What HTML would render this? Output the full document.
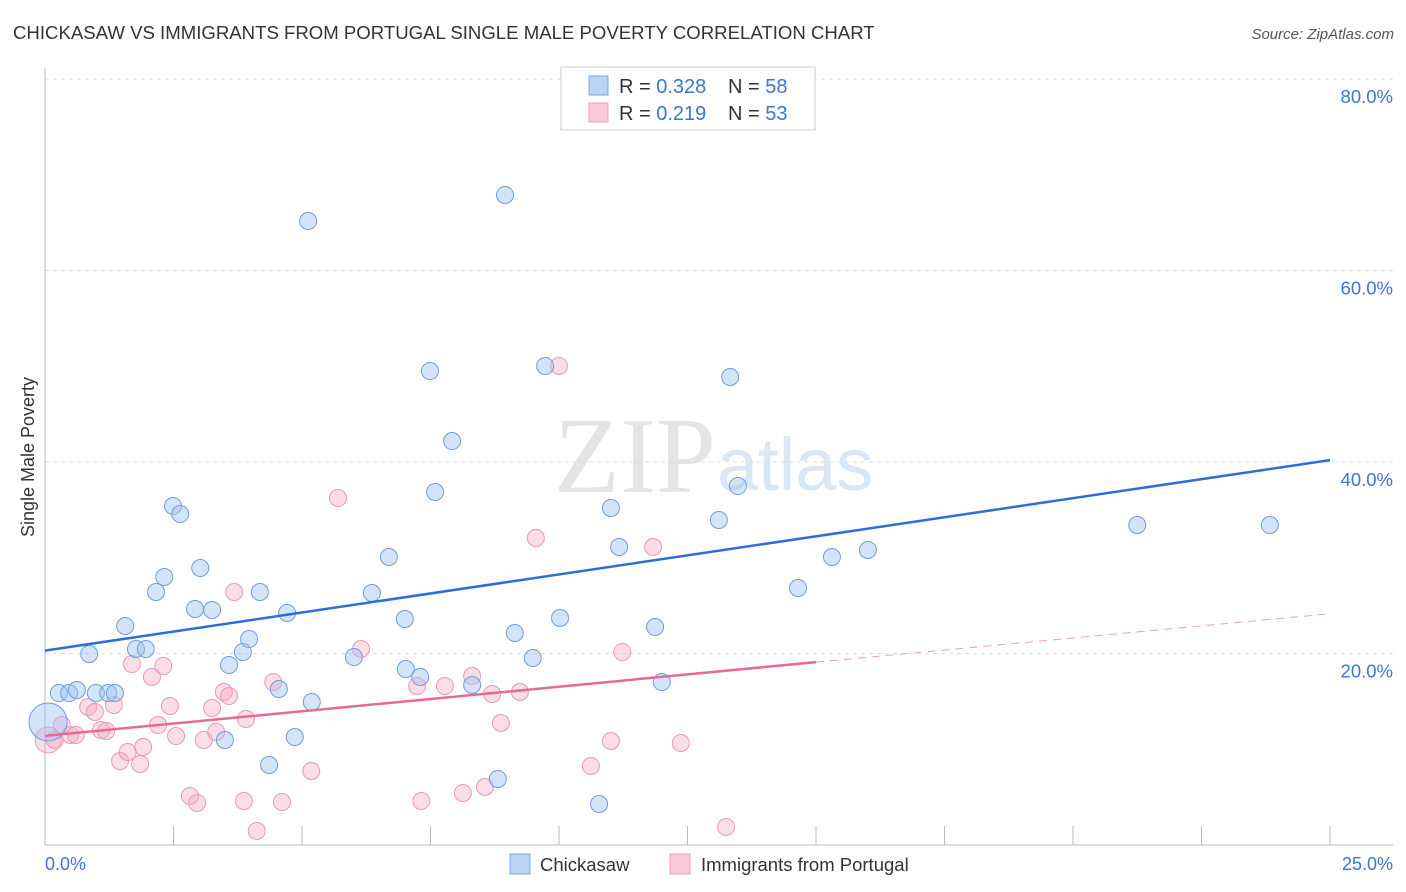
<!DOCTYPE html>
<html><head><meta charset="utf-8"><style>
body{margin:0;background:#fff;font-family:"Liberation Sans",sans-serif;}
svg{display:block}
</style></head><body>
<svg id="chart" width="1406" height="892">
<text x="13" y="39" font-size="18.6" fill="#333">CHICKASAW VS IMMIGRANTS FROM PORTUGAL SINGLE MALE POVERTY CORRELATION CHART</text>
<text x="1394" y="39" font-size="15" fill="#555" font-style="italic" text-anchor="end">Source: ZipAtlas.com</text>
<text x="716" y="492" font-size="108" fill="#e4e4e4" text-anchor="end" font-family="Liberation Serif,serif">ZIP</text>
<text x="717" y="490" font-size="74" fill="#d8e6f5">atlas</text>
<text transform="translate(34,457) rotate(-90)" font-size="18" fill="#333" text-anchor="middle">Single Male Poverty</text>
<g id="grid"></g><g id="pts"></g><g id="trend"></g>
<g>
<rect x="561" y="67" width="254" height="63" fill="#fff" stroke="#ccc"/>
<rect x="589" y="76" width="19" height="19" fill="#bcd4f4" stroke="#7aa6e0"/>
<rect x="589" y="103" width="19" height="19" fill="#fac8d6" stroke="#eba1b8"/>
<text x="619" y="93" font-size="20" fill="#333">R = <tspan fill="#3a76d6">0.328</tspan><tspan x="728">N = </tspan><tspan fill="#3a76d6">58</tspan></text>
<text x="619" y="120" font-size="20" fill="#333">R = <tspan fill="#3a76d6"> 0.219</tspan><tspan x="728">N = </tspan><tspan fill="#3a76d6">53</tspan></text>
</g>
<text x="45" y="870" font-size="18" fill="#3a76d6">0.0%</text>
<text x="1393" y="870" font-size="18" fill="#3a76d6" text-anchor="end">25.0%</text>
<rect x="510" y="854" width="20" height="20" fill="#bcd4f4" stroke="#7aa6e0"/>
<text x="540" y="871" font-size="18.5" fill="#333">Chickasaw</text>
<rect x="670" y="854" width="20" height="20" fill="#fac8d6" stroke="#eba1b8"/>
<text x="701" y="871" font-size="18.5" fill="#333">Immigrants from Portugal</text>
</svg>
<script>
const yTicks=[20,40,60,80];
const blueX=[0.06,0.27,0.47,0.62,0.86,0.99,1.23,1.36,1.56,1.77,1.96,2.16,2.32,2.49,2.63,2.92,3.02,3.25,3.50,3.58,3.85,3.97,4.18,4.36,4.55,4.71,4.86,5.12,5.19,6.01,6.36,6.69,7.00,7.02,7.30,7.49,7.59,7.92,8.31,8.81,8.95,9.14,9.49,9.73,10.02,10.78,11.01,11.17,11.87,12.00,13.11,13.33,13.48,14.65,15.31,16.01,21.25,23.83];
const blueY=[12.85,15.87,15.87,16.19,19.95,15.87,15.87,15.87,22.87,20.47,20.47,26.42,27.99,35.40,34.57,24.65,28.93,24.54,10.97,18.80,20.16,21.51,26.42,8.36,16.29,24.23,11.28,65.17,14.93,19.63,26.32,30.08,23.60,18.38,17.55,49.50,36.87,42.19,16.71,6.89,67.89,22.14,19.53,50.03,23.71,4.28,35.20,31.12,22.77,17.02,33.94,48.88,37.49,26.84,30.08,30.81,33.42,33.42];
const pinkX=[0.06,0.19,0.33,0.49,0.60,0.84,0.97,1.09,1.19,1.34,1.46,1.61,1.69,1.85,1.91,2.08,2.20,2.30,2.43,2.55,2.82,2.96,3.09,3.25,3.33,3.48,3.58,3.68,3.87,3.91,4.12,4.44,4.61,5.18,5.70,6.15,7.24,7.32,7.78,8.13,8.31,8.56,8.70,8.87,9.24,9.55,10.00,10.62,11.01,11.23,11.83,12.37,13.25];
const pinkY=[10.97,10.97,12.53,11.49,11.49,14.41,13.89,12.01,11.91,14.62,8.77,9.71,18.90,8.46,10.23,17.55,12.53,18.69,14.52,11.38,5.12,4.39,10.97,14.31,11.80,15.98,15.56,26.42,4.60,13.16,1.46,17.02,4.49,7.73,36.24,20.47,16.61,4.60,16.61,5.43,17.65,6.06,15.77,12.74,15.98,32.06,50.03,8.25,10.86,20.16,31.12,10.65,1.88];
const blueTrend=[[0,20.3],[25,40.2]];
const pinkTrend=[[0,11.4],[15,19.1]];
const pinkDash=[[15,19.1],[24.9,24.1]];
const X=v=>45+v*51.4, Y=v=>845-v*9.575;
const NS="http://www.w3.org/2000/svg";
function mk(t,a,p){const e=document.createElementNS(NS,t);for(const k in a)e.setAttribute(k,a[k]);p.appendChild(e);return e;}
const g=document.getElementById('grid');
yTicks.forEach(t=>{
 const l=mk('line',{x1:45,x2:1393,y1:Y(t),y2:Y(t),stroke:'#ddd','stroke-dasharray':'4,4'},g);
 
 
 const tx=mk('text',{x:1393,y:Y(t)+24,'font-size':18.5,fill:'#3a76d6','text-anchor':'end'},g);
 tx.textContent=t.toFixed(1)+'%';
 
 
});
const ax=mk('path',{d:'M45,68V845H1393',fill:'none',stroke:'#bbb'},g);


for(let i=1;i<=10;i++){const tk=mk('line',{x1:X(i*2.5),x2:X(i*2.5),y1:826,y2:845,stroke:'#bbb'},g);
 
 }
const p=document.getElementById('pts');
pinkX.forEach((x,i)=>{const c=mk('circle',{cx:X(x),cy:Y(pinkY[i]),r:i==0?13:8.5,fill:'rgba(245,170,195,0.4)',stroke:'#eb9ab4','stroke-width':1},p);
 
 });
blueX.forEach((x,i)=>{const c=mk('circle',{cx:X(x),cy:Y(blueY[i]),r:i==0?19:8.5,fill:'rgba(160,195,240,0.45)',stroke:'#6e9edc','stroke-width':1},p);
 
 });
const t=document.getElementById('trend');
const b=mk('line',{x1:X(blueTrend[0][0]),y1:Y(blueTrend[0][1]),x2:X(blueTrend[1][0]),y2:Y(blueTrend[1][1]),stroke:'#2a6fd6','stroke-width':2.5},t);


const pk=mk('line',{x1:X(pinkTrend[0][0]),y1:Y(pinkTrend[0][1]),x2:X(pinkTrend[1][0]),y2:Y(pinkTrend[1][1]),stroke:'#e86a94','stroke-width':2.5},t);


const pd=mk('line',{x1:X(pinkDash[0][0]),y1:Y(pinkDash[0][1]),x2:X(pinkDash[1][0]),y2:Y(pinkDash[1][1]),stroke:'#eba1b8','stroke-width':1,'stroke-dasharray':'8,6'},t);


</script>
</body></html>
